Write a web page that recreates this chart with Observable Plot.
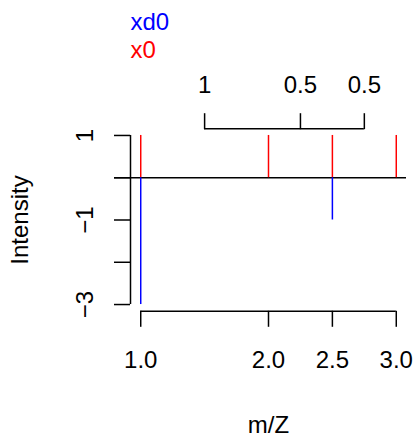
<!DOCTYPE html>
<html>
<head>
<meta charset="utf-8">
<script src="https://cdn.jsdelivr.net/npm/d3@7"></script>
<script src="https://cdn.jsdelivr.net/npm/@observablehq/plot@0.6"></script>
<style>
  html, body { margin: 0; padding: 0; background: #fff; }
</style>
</head>
<body>
<div id="chart"></div>
<script>
// Data
const x0Pos = [1, 2, 2.5, 3];
const x0Int = [1, 1, 1, 1];
const xd0Pos = [1, 2.5];
const xd0Int = [-3, -1];
const xTicks = [1, 2, 2.5, 3];
const xTickLabels = ["1.0", "2.0", "2.5", "3.0"];
const yTicks = [1, 0, -1, -2, -3];
const yLabelVals = [1, -1, -3];
const yLabels = ["1", "\u22121", "\u22123"];
const topTickPos = [1.5, 2.25, 2.75];
const topLabels = ["1", "0.5", "0.5"];
const legendLabels = ["xd0", "x0"];
const legendColors = ["blue", "red"];
const xLabel = "m/Z";
const yLabel = "Intensity";

const xDomain = [0.92, 3.08];
const yDomain = [-3.16, 1.16];
const FS = 24;
const font = "'Liberation Sans', Arial, Helvetica, sans-serif";

const x0 = x0Pos.map((x, i) => ({x, y: x0Int[i]}));
const xd0 = xd0Pos.map((x, i) => ({x, y: xd0Int[i]}));

const legendMarks = legendLabels.map((lab, i) =>
  Plot.text([lab], {frameAnchor: "top-left", textAnchor: "start", lineAnchor: "bottom",
    dy: -99.2 + i * 28, fill: legendColors[i], fontSize: FS})
);

const chart = Plot.plot({
  width: 417,
  height: 437,
  marginLeft: 130,
  marginRight: 11,
  marginTop: 128.2,
  marginBottom: 126.2,
  style: {fontFamily: font, fontSize: FS + "px", background: "#fff", color: "black"},
  x: {domain: xDomain},
  y: {domain: yDomain},
  marks: [
    // zero line
    Plot.ruleY([0], {stroke: "black", strokeWidth: 1.5, insetLeft: -16}),
    // spectra
    Plot.ruleX(x0, {x: "x", y1: 0, y2: "y", stroke: "red", strokeWidth: 1.5}),
    Plot.ruleX(xd0, {x: "x", y1: 0, y2: "y", stroke: "blue", strokeWidth: 1.5}),
    // bottom axis
    Plot.ruleY([yDomain[0]], {x1: xTicks[0], x2: xTicks[xTicks.length - 1], stroke: "black", strokeWidth: 1.5}),
    Plot.axisX(xTicks, {anchor: "bottom", tickSize: 16, tickFormat: () => "", label: null, stroke: "black", strokeWidth: 1.5}),
    Plot.text(xTicks, {x: d => d, text: (d, i) => xTickLabels[i], frameAnchor: "bottom", textAnchor: "middle", lineAnchor: "bottom", dy: 57, fontSize: FS, fill: "black"}),
    Plot.text([xLabel], {frameAnchor: "bottom", textAnchor: "middle", lineAnchor: "bottom", dy: 121.5, fontSize: FS, fill: "black"}),
    // top axis
    Plot.ruleY([yDomain[1]], {x1: topTickPos[0], x2: topTickPos[topTickPos.length - 1], stroke: "black", strokeWidth: 1.5}),
    Plot.axisX(topTickPos, {anchor: "top", tickSize: 16, tickFormat: () => "", label: null, stroke: "black", strokeWidth: 1.5}),
    Plot.text(topTickPos, {x: d => d, text: (d, i) => topLabels[i], frameAnchor: "top", textAnchor: "middle", lineAnchor: "bottom", dy: -36, fontSize: FS, fill: "black"}),
    // left axis
    Plot.ruleX([xDomain[0]], {y1: yTicks[yTicks.length - 1], y2: yTicks[0], stroke: "black", strokeWidth: 1.5}),
    Plot.axisY(yTicks, {anchor: "left", tickSize: 16, tickFormat: () => "", label: null, stroke: "black", strokeWidth: 1.5}),
    Plot.text(yLabelVals, {y: d => d, text: (d, i) => yLabels[i], frameAnchor: "left", textAnchor: "middle", rotate: -90, lineAnchor: "bottom", dx: -38, fontSize: FS, fill: "black"}),
    Plot.text([yLabel], {frameAnchor: "left", textAnchor: "middle", rotate: -90, lineAnchor: "bottom", dx: -103, fontSize: FS, fill: "black"}),
    // legend
    ...legendMarks
  ]
});
document.getElementById("chart").appendChild(chart);
</script>
</body>
</html>
